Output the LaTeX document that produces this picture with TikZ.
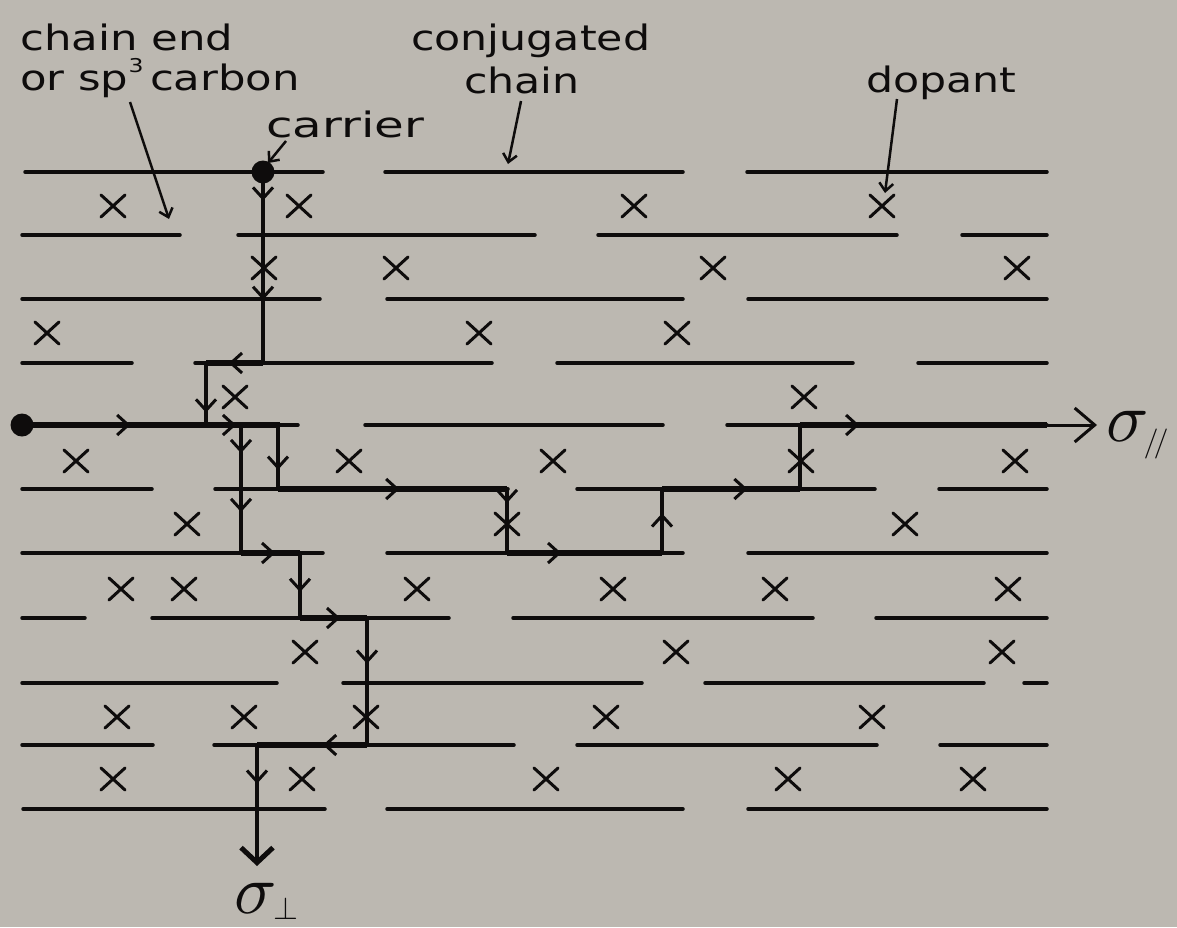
\documentclass[tikz,border=0pt]{standalone}
\usepackage{fontspec}
\usepackage{graphicx}
\setmainfont{DejaVu Sans}
\usetikzlibrary{arrows.meta,decorations.markings}
\definecolor{bg}{RGB}{188,184,177}
\definecolor{ink}{RGB}{14,12,12}
\tikzset{
  chainline/.style={line width=3.5pt, line cap=round, draw=ink},
  heavy/.style={line width=6.5pt, line cap=square, draw=ink},
  vert/.style={line width=4pt, line cap=square, draw=ink},
  dopx/.style={line width=3pt, line cap=round, draw=ink},
  mida/.style={postaction={decorate,decoration={markings,mark=at position #1 with {\arrow{Straight Barb[length=11pt,width=20pt,line width=3pt]}}}}},
  lbl/.style={inner sep=0pt, text=ink, font=\fontsize{35}{40}\selectfont},
  sig/.style={inner sep=0pt, text=ink},
  leader/.style={line width=2.5pt, draw=ink, -{Straight Barb[length=8pt,width=14pt,line width=2.5pt]}},
  dot/.style={circle, fill=ink, minimum size=23pt, inner sep=0pt},
}
\begin{document}
\begin{tikzpicture}[x=1pt,y=-1pt]
\fill[bg] (0,0) rectangle (1177,927);
\useasboundingbox (0,0) rectangle (1177,927);

% conjugated chains
\foreach \y/\a/\b in {
  172/25/323, 172/385/683, 172/747/1047,
  235/22/180, 235/238/535, 235/598/897, 235/962/1047,
  299/22/320, 299/387/683, 299/748/1047,
  363/22/132, 363/195/492, 363/557/853, 363/918/1047,
  425/22/298, 425/365/663, 425/727/1047,
  489/22/152, 489/215/508, 489/577/875, 489/939/1047,
  553/22/323, 553/387/683, 553/748/1047,
  618/22/85, 618/152/449, 618/513/813, 618/876/1047,
  683/22/277, 683/343/642, 683/705/984, 683/1024/1047,
  745/22/153, 745/214/514, 745/577/877, 745/940/1047,
  809/23/325, 809/387/683, 809/748/1047}
  \draw[chainline] (\a,\y) -- (\b,\y);

% path corners
\coordinate (p1) at (263,363);
\coordinate (p2) at (206,363);
\coordinate (p3) at (206,425);
\coordinate (h1) at (280,425);
\coordinate (a1) at (241,425);
\coordinate (a2) at (241,553);
\coordinate (b1) at (278,425);
\coordinate (b2) at (278,489);
\coordinate (b3) at (507,489);
\coordinate (b4) at (507,553);
\coordinate (b5) at (662,553);
\coordinate (b6) at (662,489);
\coordinate (b7) at (800,489);
\coordinate (b8) at (800,425);
\coordinate (b9) at (1047,425);
\coordinate (tipR) at (1097,425);
\coordinate (q1) at (300,553);
\coordinate (q2) at (300,618);
\coordinate (q3) at (367,618);
\coordinate (q4) at (367,745);
\coordinate (q5) at (257,745);
\coordinate (tipB) at (257,866);

\node[dot] (carrier) at (263,172) {};
\node[dot] (start) at (22,425) {};

% carrier path
\draw[vert, mida=0.15, mida=0.67] (carrier.center) -- (p1);
\draw[heavy, line width=5.5pt, mida=0.6] (p1) -- (p2);
\draw[vert, mida=0.8] (p2) -- (p3);

% main path
\draw[heavy, mida=0.42, mida=0.83] (start.center) -- (h1);
\draw[vert, mida=0.22, mida=0.68] (a1) -- (a2);
\draw[vert, mida=0.7] (b1) -- (b2);
\draw[heavy, mida=0.53] (b2) -- (b3);
\draw[vert, mida=0.22] (b3) -- (b4);
\draw[heavy, mida=0.35] (b4) -- (b5);
\draw[vert, mida=0.62] (b5) -- (b6);
\draw[heavy, mida=0.62] (b6) -- (b7);
\draw[vert] (b7) -- (b8);
\draw[heavy, mida=0.24] (b8) -- (b9);
\draw[line width=3pt, draw=ink, -{Straight Barb[length=20pt,width=34pt,line width=3pt]}] (b9) -- (tipR);

% perpendicular branch
\draw[heavy, mida=0.58] (a2) -- (q1);
\draw[vert, mida=0.6] (q1) -- (q2);
\draw[heavy, mida=0.6] (q2) -- (q3);
\draw[vert, mida=0.36] (q3) -- (q4);
\draw[heavy, mida=0.4] (q4) -- (q5);
\draw[vert, mida=0.32, -{Straight Barb[length=15pt,width=32pt,line width=5pt]}] (q5) -- (tipB);

% dopants
\foreach \x/\y in {
  113/206, 299/206, 634/206, 882/206,
  264/268, 396/268, 713/268, 1017/268,
  47/333, 479/333, 677/333,
  235/397, 804/397,
  76/461, 349/461, 553/461, 801/461, 1015/461,
  187/524, 507/524, 905/524,
  121/589, 184/589, 417/589, 613/589, 775/589, 1008/589,
  305/652, 676/652, 1002/652,
  117/717, 244/717, 366/717, 606/717, 872/717,
  113/779, 302/779, 546/779, 788/779, 973/779}
  \draw[dopx] (\x-12,\y-11) -- (\x+12,\y+11) (\x-12,\y+11) -- (\x+12,\y-11);

% labels
\node[lbl, anchor=base west] (chainend) at (20,50) {\scalebox{1.24}[1]{chain end}};
\node[lbl, anchor=base west] (orsp) at (20,90) {\scalebox{1.24}[1]{or sp\raisebox{0.5em}{\fontsize{19}{19}\selectfont 3}\hspace{0.15em}carbon}};
\node[lbl, anchor=base west] (carrlbl) at (266,137) {\scalebox{1.38}[1]{carrier}};
\node[lbl, anchor=base west] (conj) at (411,50) {\scalebox{1.22}[1]{conjugated}};
\node[lbl, anchor=base] (chainlbl) at (522,93) {\scalebox{1.22}[1]{chain}};
\node[lbl, anchor=base west] (dopant) at (866,92) {\scalebox{1.22}[1]{dopant}};

\coordinate (l1s) at (130,102);
\coordinate (l1e) at (169,219);
\coordinate (l2s) at (286,141);
\coordinate (l2e) at (268,163);
\coordinate (l3s) at (521,101);
\coordinate (l3e) at (508,164);
\coordinate (l4s) at (897,99);
\coordinate (l4e) at (885,193);
\draw[leader] (l1s) -- (l1e);
\draw[leader] (l2s) -- (l2e);
\draw[leader] (l3s) -- (l3e);
\draw[leader] (l4s) -- (l4e);

\node[sig, anchor=base west] (sigpar) at (1106,441) {\scalebox{7}{$\sigma$}\hspace{-5pt}\raisebox{-10pt}{\scalebox{3}{$/\!/$}}};
\node[sig, anchor=base west] (sigperp) at (234,913) {\scalebox{7}{$\sigma$}\hspace{-3pt}\raisebox{-6pt}{\scalebox{3.2}{$\perp$}}};
\end{tikzpicture}
\end{document}
